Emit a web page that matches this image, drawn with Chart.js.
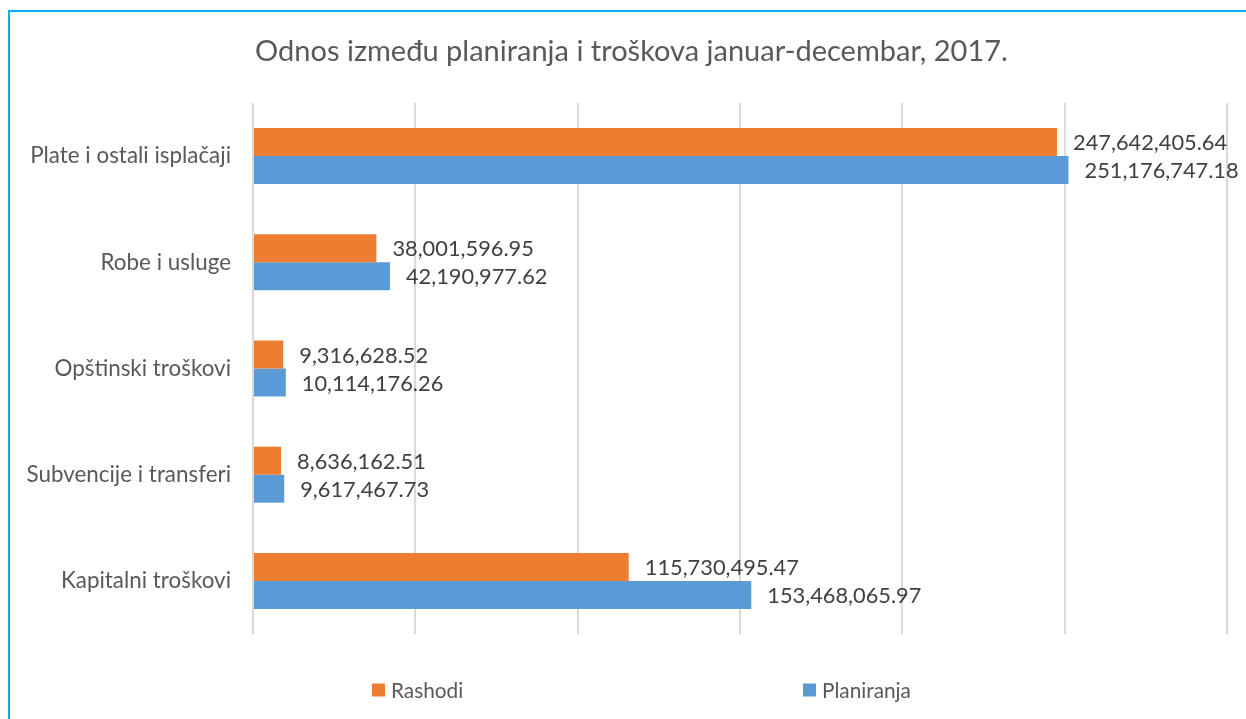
<!DOCTYPE html>
<html>
<head>
<meta charset="utf-8">
<script src="https://cdn.jsdelivr.net/npm/chart.js@4.4.1/dist/chart.umd.min.js"></script>
<style>
  html, body { margin: 0; padding: 0; background: #fff; overflow: hidden; }
  #wrap { position: relative; width: 1246px; height: 719px; }
  #frame { position: absolute; left: 8px; top: 10px; width: 2000px; height: 2000px;
           border-left: 2px solid #00B0F0; border-top: 2px solid #00B0F0; box-sizing: border-box; pointer-events: none; }
  canvas { position: absolute; left: 0; top: 0; }
</style>
</head>
<body>
<div id="wrap">
  <canvas id="c" width="1246" height="719"></canvas>
  <div id="frame"></div>
</div>
<script>
const categories = ["Plate i ostali isplačaji", "Robe i usluge", "Opštinski troškovi", "Subvencije i transferi", "Kapitalni troškovi"];
const rashodi = [247642405.64, 38001596.95, 9316628.52, 8636162.51, 115730495.47];
const planiranja = [251176747.18, 42190977.62, 10114176.26, 9617467.73, 153468065.97];
const seriesNames = ["Rashodi", "Planiranja"];
const titleText = "Odnos između planiranja i troškova januar-decembar, 2017.";

const FONT = "Lato, 'Open Sans', sans-serif";

const fmt = v => v.toLocaleString('en-US', { minimumFractionDigits: 2, maximumFractionDigits: 2 });

const valueLabels = {
  id: 'valueLabels',
  afterDatasetsDraw(chart) {
    const ctx = chart.ctx;
    ctx.save();
    ctx.font = "21.8px " + FONT;
    ctx.fillStyle = "#404040";
    ctx.textAlign = "left";
    ctx.textBaseline = "middle";
    chart.data.datasets.forEach((ds, i) => {
      const meta = chart.getDatasetMeta(i);
      meta.data.forEach((bar, j) => {
        ctx.fillText(fmt(ds.data[j]), bar.x + 16, bar.y + 1);
      });
    });
    ctx.restore();
  }
};

const bottomLegend = {
  id: 'bottomLegend',
  afterDraw(chart, args, opts) {
    const ctx = chart.ctx;
    ctx.save();
    ctx.font = opts.fontSize + "px " + FONT;
    ctx.textBaseline = "middle";
    ctx.textAlign = "left";
    chart.data.datasets.forEach((ds, i) => {
      const x = opts.startX + i * opts.spacing;
      const y = opts.y;
      ctx.fillStyle = ds.backgroundColor;
      ctx.fillRect(x, y - opts.box / 2, opts.box, opts.box);
      ctx.fillStyle = "#595959";
      ctx.fillText(ds.label, x + opts.box + 6, y + 1);
    });
    ctx.restore();
  }
};

const titleShift = {
  id: 'titleShift',
  afterLayout(chart) {
    if (chart.titleBlock) chart.titleBlock.left += 16;
  }
};

new Chart(document.getElementById('c'), {
  type: 'bar',
  data: {
    labels: categories,
    datasets: [
      { label: seriesNames[0], data: rashodi, backgroundColor: "#ED7D31", categoryPercentage: 0.527, barPercentage: 1.0 },
      { label: seriesNames[1], data: planiranja, backgroundColor: "#5B9BD5", categoryPercentage: 0.527, barPercentage: 1.0 }
    ]
  },
  options: {
    indexAxis: 'y',
    responsive: false,
    animation: false,
    layout: { padding: { left: 20, right: 19, top: 0, bottom: 85 } },
    scales: {
      x: {
        min: 0, max: 300000000,
        ticks: { display: false, stepSize: 50000000 },
        grid: { color: "#D9D9D9", lineWidth: 2, drawTicks: false },
        border: { display: false }
      },
      y: {
        grid: { display: false, drawTicks: false },
        border: { display: false },
        ticks: { color: "#595959", font: { family: FONT, size: 22.4 }, padding: 22 },
        afterFit(scale) { scale.width = 233; }
      }
    },
    plugins: {
      legend: { display: false },
      tooltip: { enabled: false },
      title: {
        display: true, text: titleText, color: "#595959",
        font: { family: FONT, size: 29, weight: 'normal' },
        padding: { top: 34.5, bottom: 33.7 }
      },
      bottomLegend: { startX: 372, spacing: 431, y: 690, box: 13, fontSize: 20.8 }
    }
  },
  plugins: [valueLabels, bottomLegend, titleShift]
});
</script>
</body>
</html>
